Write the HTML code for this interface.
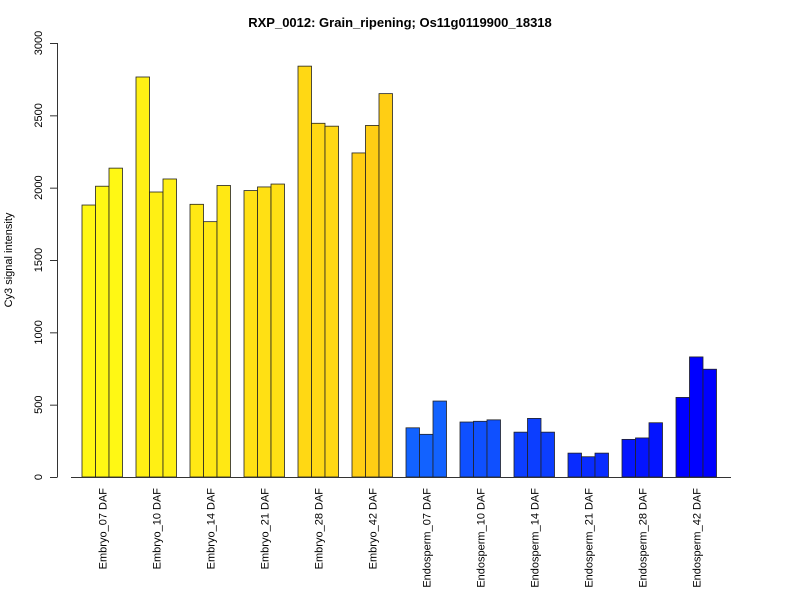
<!DOCTYPE html>
<html><head><meta charset="utf-8"><style>
body{margin:0;background:#fff}
svg{display:block;font-family:"Liberation Sans",Arial,sans-serif}
</style></head><body>
<svg id="chart" width="800" height="600" viewBox="0 0 800 600">
<rect width="800" height="600" fill="#fff"/>
<text x="400" y="27" text-anchor="middle" font-size="13" font-weight="bold">RXP_0012: Grain_ripening; Os11g0119900_18318</text>
<text transform="translate(12,260) rotate(-90)" text-anchor="middle" font-size="11">Cy3 signal intensity</text>
<g id="yaxis"></g>
<g id="bars"></g>
<g id="xlabels"></g>
<line x1="71" y1="477.5" x2="731" y2="477.5" stroke="#333" stroke-width="1"/>
</svg>
<script>
const categories = ["Embryo_07 DAF","Embryo_10 DAF","Embryo_14 DAF","Embryo_21 DAF","Embryo_28 DAF","Embryo_42 DAF","Endosperm_07 DAF","Endosperm_10 DAF","Endosperm_14 DAF","Endosperm_21 DAF","Endosperm_28 DAF","Endosperm_42 DAF"];
const rep1 = [1880,2765,1885,1980,2840,2240,340,380,310,165,260,550];
const rep2 = [2010,1970,1765,2005,2445,2430,295,385,405,140,270,830];
const rep3 = [2135,2060,2015,2025,2425,2650,525,395,310,165,375,745];
const groupColors = ["#FFF814","#FFF014","#FFE814","#FFE014","#FFD814","#FFCE14","#1262FF","#0F50FF","#0C3EFF","#092CFF","#0414FF","#0000FF"];
const yTicks = [0,500,1000,1500,2000,2500,3000];
const ns="http://www.w3.org/2000/svg";
const yMin=0,yMax=3000,y0=477,y1=43;
function yScale(v){return y0-(v-yMin)/(yMax-yMin)*(y0-y1);}
const barW=13.5, groupStep=54, xStart=82;
function xScale(g,r){return xStart+g*groupStep+r*barW;}
const yax=document.getElementById('yaxis');
const al=document.createElementNS(ns,'line');


al.setAttribute('x1',57.5);al.setAttribute('x2',57.5);al.setAttribute('y1',yScale(0));al.setAttribute('y2',yScale(3000));al.setAttribute('stroke','#333');
yax.appendChild(al);
yTicks.forEach(t=>{
 const l=document.createElementNS(ns,'line');
 
 
 l.setAttribute('x1',50);l.setAttribute('x2',57.5);l.setAttribute('y1',yScale(t)+0.5);l.setAttribute('y2',yScale(t)+0.5);l.setAttribute('stroke','#333');
 yax.appendChild(l);
 const tx=document.createElementNS(ns,'text');
 
 
 tx.setAttribute('transform',`translate(42,${yScale(t)}) rotate(-90)`);
 tx.setAttribute('text-anchor','middle');tx.setAttribute('font-size','11');
 tx.textContent=t;yax.appendChild(tx);
});
const bars=document.getElementById('bars');
const reps=[rep1,rep2,rep3];
categories.forEach((c,g)=>{
 reps.forEach((arr,r)=>{
  const b=document.createElementNS(ns,'rect');
  
  
  const top=yScale(arr[g]);
  b.setAttribute('x',xScale(g,r));b.setAttribute('y',top);
  b.setAttribute('width',barW);b.setAttribute('height',yScale(0)-top);
  b.setAttribute('fill',groupColors[g]);b.setAttribute('stroke','#222');b.setAttribute('stroke-width','0.8');
  bars.appendChild(b);
 });
 const tx=document.createElementNS(ns,'text');
 
 
 const cx=xScale(g,1.5);
 tx.setAttribute('transform',`translate(${cx+4},488) rotate(-90)`);
 tx.setAttribute('text-anchor','end');tx.setAttribute('font-size','11');
 tx.textContent=c;
 document.getElementById('xlabels').appendChild(tx);
});
</script>
</body></html>
